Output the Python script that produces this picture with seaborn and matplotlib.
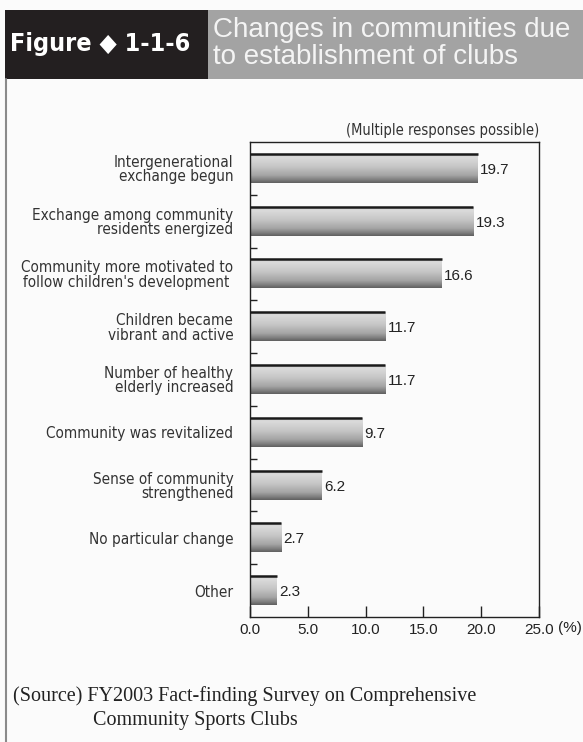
import numpy as np
import pandas as pd
import matplotlib
matplotlib.use("Agg")
import matplotlib.pyplot as plt
import seaborn as sns
from matplotlib.patches import Rectangle
from matplotlib.lines import Line2D
from matplotlib.colors import LinearSegmentedColormap

categories = [
    "Intergenerational\nexchange begun",
    "Exchange among community\nresidents energized",
    "Community more motivated to\nfollow children's development ",
    "Children became\nvibrant and active",
    "Number of healthy\nelderly increased",
    "Community was revitalized",
    "Sense of community\nstrengthened",
    "No particular change",
    "Other",
]
values = [19.7, 19.3, 16.6, 11.7, 11.7, 9.7, 6.2, 2.7, 2.3]
x_ticks = [0, 5, 10, 15, 20, 25]
x_tick_labels = ["0.0", "5.0", "10.0", "15.0", "20.0", "25.0"]

SANS = "Liberation Sans"
SERIF = "Liberation Serif"
NARROW = "DejaVu Sans"

sns.set_theme(style="white")
plt.rcParams["font.family"] = [SANS, "DejaVu Sans"]

BG = "#fbfbfb"
W, H = 583, 742
fig = plt.figure(figsize=(W / 100, H / 100), dpi=100)
fig.patch.set_facecolor(BG)

def fx(px):
    return px / W

def fy(py):
    return 1 - py / H

ax = fig.add_axes([fx(250), fy(617), fx(539) - fx(250), fy(142) - fy(617)])
ax.set_facecolor(BG)

df = pd.DataFrame({"cat": categories, "val": values})
sns.barplot(data=df, x="val", y="cat", orient="h", ax=ax, width=0.55,
            color="#bbbbbb", edgecolor="none", linewidth=0)

ax.set_xlim(0, 25)
ax.set_ylim(len(categories) - 0.5, -0.5)

cmap = LinearSegmentedColormap.from_list(
    "barg",
    [(0.0, "#d2d2d2"), (0.15, "#dadada"), (0.45, "#c6c6c6"),
     (0.75, "#a4a4a4"), (0.9, "#7e7e7e"), (1.0, "#606060")])
grad = np.linspace(0, 1, 64).reshape(-1, 1)
for p in list(ax.patches):
    x0, y0 = p.get_x(), p.get_y()
    w, h = p.get_width(), p.get_height()
    p.set_facecolor("none")
    im = ax.imshow(grad, cmap=cmap, aspect="auto", origin="upper",
                   extent=(x0, x0 + w, y0 + h, y0), interpolation="bilinear",
                   zorder=2)
    im.set_clip_path(p)
    ax.add_line(Line2D([x0, x0 + w], [y0, y0], color="#1a1a1a", lw=1.8,
                       zorder=3, solid_capstyle="butt"))

ax.set_xlim(0, 25)
ax.set_ylim(len(categories) - 0.5, -0.5)

for i, v in enumerate(values):
    ax.text(v + 0.2, i + 0.03, f"{v:.1f}", va="center", ha="left",
            fontsize=11, color="#222222", family=SANS)

ax.set_xlabel("")
ax.set_ylabel("")
ax.set_xticks(x_ticks)
ax.set_xticklabels(x_tick_labels, fontsize=11, color="#222222", family=SANS)
ax.tick_params(axis="x", direction="in", length=8, width=1, color="#222222",
               pad=4, bottom=True)
ax.set_yticks(range(len(categories)))
ax.set_yticklabels(categories, fontsize=11, color="#333333", family=NARROW,
                   linespacing=0.95, fontstretch="condensed")
ax.tick_params(axis="y", which="major", length=0, pad=12, left=True)
ax.set_yticks(np.arange(0.5, len(categories) - 1, 1.0), minor=True)
ax.tick_params(axis="y", which="minor", direction="in", length=5, width=1,
               color="#222222", left=True)
for lab in ax.get_yticklabels():
    lab.set_multialignment("right")

for s in ax.spines.values():
    s.set_visible(True)
    s.set_color("#222222")
    s.set_linewidth(1.0)

ax.text(1.066, -0.023, "(%)", transform=ax.transAxes, ha="left", va="center",
        fontsize=11, color="#222222", family=SANS)
ax.text(1.0, 1.025, "(Multiple responses possible)", transform=ax.transAxes,
        ha="right", va="center", fontsize=10.5, color="#333333", family=NARROW,
        fontstretch="condensed")

# header
fig.patches.append(Rectangle((fx(5), fy(79)), fx(208) - fx(5), fy(10) - fy(79),
                             transform=fig.transFigure, facecolor="#231f20",
                             edgecolor="none", zorder=0))
fig.patches.append(Rectangle((fx(208), fy(79)), fx(583) - fx(208), fy(10) - fy(79),
                             transform=fig.transFigure, facecolor="#a3a3a3",
                             edgecolor="none", zorder=0))
fig.text(fx(100), fy(43.5), "Figure \u25c6 1-1-6", ha="center", va="center",
         fontsize=18, fontweight="bold", color="white",
         family="DejaVu Sans", fontstretch="condensed")
fig.text(fx(213), fy(43.5), "Changes in communities due\nto establishment of clubs",
         ha="left", va="center", fontsize=20, color="#f4f4f4", family=SANS,
         linespacing=1.05)

# left rule
fig.add_artist(Line2D([fx(5.5), fx(5.5)], [fy(79), 0], transform=fig.transFigure,
                      color="#8a8a8a", lw=1.5))

# source
fig.text(fx(13), fy(696), "(Source) FY2003 Fact-finding Survey on Comprehensive",
         ha="left", va="center", fontsize=14.5, color="#222222", family=SERIF)
fig.text(fx(93), fy(720), "Community Sports Clubs",
         ha="left", va="center", fontsize=14.5, color="#222222", family=SERIF)

fig.savefig("out.png", dpi=100, facecolor=BG)
